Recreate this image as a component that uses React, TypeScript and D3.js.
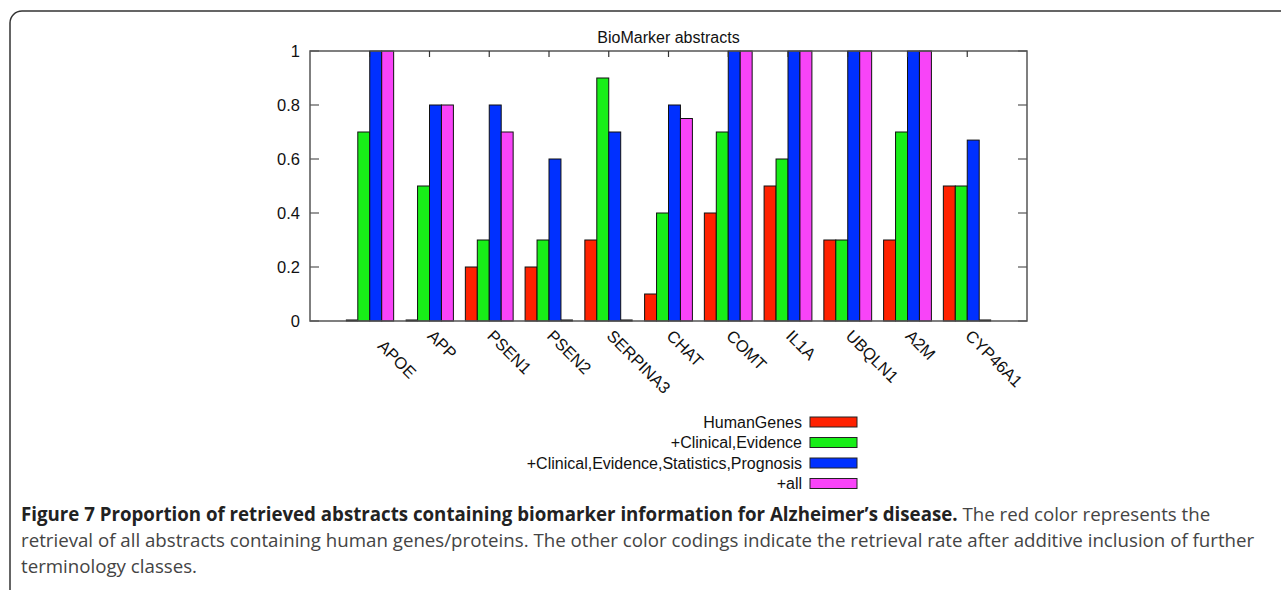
import React from 'react';
import * as d3 from 'd3';

const genes = ['APOE', 'APP', 'PSEN1', 'PSEN2', 'SERPINA3', 'CHAT', 'COMT', 'IL1A', 'UBQLN1', 'A2M', 'CYP46A1'];
const seriesNames = ['HumanGenes', '+Clinical,Evidence', '+Clinical,Evidence,Statistics,Prognosis', '+all'];
const humanGenes = [0, 0, 0.2, 0.2, 0.3, 0.1, 0.4, 0.5, 0.3, 0.3, 0.5];
const clinical = [0.7, 0.5, 0.3, 0.3, 0.9, 0.4, 0.7, 0.6, 0.3, 0.7, 0.5];
const prognosis = [1, 0.8, 0.8, 0.6, 0.7, 0.8, 1, 1, 1, 1, 0.67];
const allTerms = [1, 0.8, 0.7, 0, 0, 0.75, 1, 1, 1, 1, 0];
const yTicks = [0, 0.2, 0.4, 0.6, 0.8, 1];
const colors = ['#ff2200', '#18ee18', '#0030ff', '#f844f8'];

const W = 1281;
const H = 590;
const plot = { left: 310, right: 1027, top: 51, bottom: 321 };
const font = '"Liberation Sans", Arial, sans-serif';
const capFont = '"Open Sans", sans-serif';

export default function App() {
  const series = [humanGenes, clinical, prognosis, allTerms];
  // gnuplot style: x from -1 to n, groups centred on integers
  const x = d3.scaleLinear().domain([-1, genes.length]).range([plot.left, plot.right]);
  const y = d3.scaleLinear().domain([0, 1]).range([plot.bottom, plot.top]);
  const barW = 0.2;

  return (
    <svg width={W} height={H} style={{ position: 'absolute', left: 0, top: 0, background: '#fff' }}>
      <rect x={10} y={11} width={1300} height={600} rx={12} fill="none" stroke="#333" strokeWidth={1.5} />

      <text x={(plot.left + plot.right) / 2} y={43} textAnchor="middle" fontFamily={font} fontSize={16} fill="#111">
        BioMarker abstracts
      </text>

      {/* bars */}
      {series.map((vals, j) =>
        vals.map((v, i) => {
          const x0 = x(i - 0.4 + j * barW);
          const w = x(i - 0.4 + (j + 1) * barW) - x0;
          if (v === 0) {
            return <line key={`${j}-${i}`} x1={x0} x2={x0 + w} y1={y(0) - 0.5} y2={y(0) - 0.5} stroke="#000" strokeWidth={2} />;
          }
          return (
            <rect key={`${j}-${i}`} x={x0} y={y(v)} width={w} height={y(0) - y(v)}
              fill={colors[j]} stroke="#111" strokeWidth={1} />
          );
        })
      )}

      {/* frame */}
      <rect x={plot.left} y={plot.top} width={plot.right - plot.left} height={plot.bottom - plot.top}
        fill="none" stroke="#555" strokeWidth={1.5} />

      {/* y ticks */}
      {yTicks.map(t => (
        <g key={t}>
          <line x1={plot.left} x2={plot.left + 9} y1={y(t)} y2={y(t)} stroke="#555" strokeWidth={1.2} />
          <line x1={plot.right} x2={plot.right - 9} y1={y(t)} y2={y(t)} stroke="#555" strokeWidth={1.2} />
          <text x={300} y={y(t) + 5.5} textAnchor="end" fontFamily={font} fontSize={16.5} fill="#111">
            {d3.format('~g')(t)}
          </text>
        </g>
      ))}

      {/* x ticks (top mirror) and rotated labels */}
      {genes.map((g, i) => (
        <g key={g}>
          <line x1={x(i)} x2={x(i)} y1={plot.top} y2={plot.top + 6} stroke="#333" strokeWidth={1.2} />
          <text transform={`translate(${x(i) - 3 + (i === 0 ? 10 : 0)},${337 + (i === 0 ? 10 : 0)}) rotate(45)`}
            fontFamily={font} fontSize={16.5} fill="#111">
            {g}
          </text>
        </g>
      ))}

      {/* legend */}
      {seriesNames.map((s, j) => (
        <g key={s} transform={`translate(0,${422 + j * 20.5})`}>
          <text x={802} y={5.5} textAnchor="end" fontFamily={font} fontSize={16} fill="#111">{s}</text>
          <rect x={810} y={-5} width={47} height={10} fill={colors[j]} stroke="#222" strokeWidth={1} />
        </g>
      ))}

      {/* caption */}
      <text x={21} y={521} fontFamily={capFont} fontSize={18.7} fill="#444">
        <tspan fontWeight="bold" fill="#222">Figure 7 Proportion of retrieved abstracts containing biomarker information for Alzheimer’s disease.</tspan>
        <tspan> The red color represents the</tspan>
      </text>
      <text x={21} y={547} fontFamily={capFont} fontSize={18.7} fill="#444">
        retrieval of all abstracts containing human genes/proteins. The other color codings indicate the retrieval rate after additive inclusion of further
      </text>
      <text x={21} y={573} fontFamily={capFont} fontSize={18.7} fill="#444">
        terminology classes.
      </text>
    </svg>
  );
}
